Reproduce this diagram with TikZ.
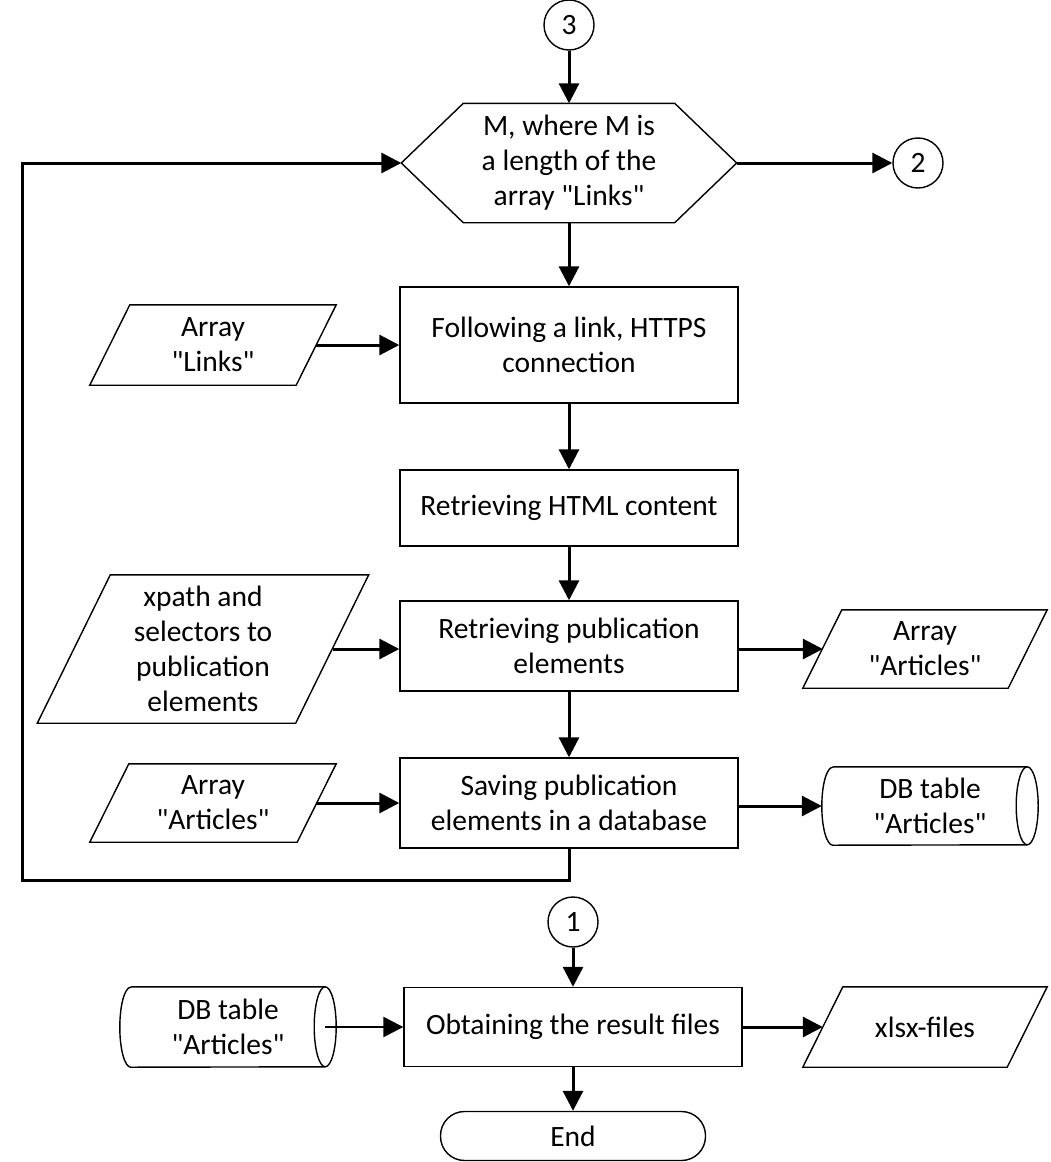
\documentclass[tikz,border=0pt]{standalone}
\usepackage{fontspec}
\setmainfont{Carlito}[Ligatures=TeXOff]
\usetikzlibrary{arrows.meta}
\tikzset{
  txt/.style={align=center, inner sep=0pt, font=\fontsize{29.5}{35}\selectfont},
  procbox/.style={txt, draw, line width=1.4pt, minimum width=338, minimum height=#1},
  conn/.style={txt, draw, circle, line width=1.4pt, minimum size=50},
  flow/.style={line width=3pt, -{Triangle[length=20pt,width=20pt]}},
  shapeline/.style={line width=1.4pt},
  blank/.style={txt, minimum width=#1}
}
\begin{document}
\begin{tikzpicture}[x=1pt,y=-1pt]
\useasboundingbox[fill=white] (0,0) rectangle (1051,1162);

% connectors
\node[conn] (c3) at (569,25) {3};
\node[conn] (c2) at (918,163) {2};

% hexagon (loop limit)
\node[blank=335, minimum height=119] (hex) at (569,163) {M, where M is\\a length of the\\array "Links"};
\draw[shapeline] (hex.west) -- ([xshift=62]hex.north west) -- ([xshift=-62]hex.north east)
  -- (hex.east) -- ([xshift=-62]hex.south east) -- ([xshift=62]hex.south west) -- cycle;

% process boxes
\node[procbox=116] (follow) at (569,345) {Following a link, HTTPS\\connection};
\node[procbox=76] (html) at (569,508) {Retrieving HTML content};
\node[procbox=90] (pub) at (569,646) {Retrieving publication\\elements};
\node[procbox=90] (save) at (569,803) {Saving publication\\elements in a database};
\node[conn] (c1) at (573,922) {1};
\node[procbox=79] (obtain) at (573,1027) {Obtaining the result files};
\node[txt, draw, line width=1.4pt, rounded corners=24pt, minimum width=265, minimum height=49] (end) at (573,1136) {End};

% parallelograms (data)
\node[blank=246, minimum height=80] (links) at (213,345) {Array\\"Links"};
\draw[shapeline] (links.south west) -- ([xshift=40]links.north west) -- (links.north east)
  -- ([xshift=-40]links.south east) -- cycle;

\node[blank=331, minimum height=148] (xpath) at (203,649) {xpath and\\selectors to\\publication\\elements};
\draw[shapeline] (xpath.south west) -- ([xshift=73]xpath.north west) -- (xpath.north east)
  -- ([xshift=-73]xpath.south east) -- cycle;

\node[blank=244, minimum height=78] (artR) at (925,649) {Array\\"Articles"};
\draw[shapeline] (artR.south west) -- ([xshift=39]artR.north west) -- (artR.north east)
  -- ([xshift=-39]artR.south east) -- cycle;

\node[blank=246, minimum height=78] (artL) at (213,803) {Array\\"Articles"};
\draw[shapeline] (artL.south west) -- ([xshift=39]artL.north west) -- (artL.north east)
  -- ([xshift=-39]artL.south east) -- cycle;

\node[blank=244, minimum height=80] (xlsx) at (925,1027) {xlsx-files};
\draw[shapeline] (xlsx.south west) -- ([xshift=40]xlsx.north west) -- (xlsx.north east)
  -- ([xshift=-40]xlsx.south east) -- cycle;

% cylinders (DB tables)
\node[blank=216, minimum height=78] (dbR) at (930,806) {DB table\\"Articles"};
\draw[shapeline] ([xshift=11pt]dbR.north west) -- ([xshift=-11pt]dbR.north east)
  arc[start angle=90, end angle=-90, x radius=11pt, y radius=39pt]
  -- ([xshift=11pt]dbR.south west)
  arc[start angle=270, end angle=90, x radius=11pt, y radius=39pt];
\draw[shapeline] ([xshift=-11pt]dbR.north east)
  arc[start angle=90, end angle=270, x radius=11pt, y radius=39pt];

\node[blank=216, minimum height=80] (dbL) at (228,1027) {DB table\\"Articles"};
\draw[shapeline] ([xshift=11pt]dbL.north west) -- ([xshift=-11pt]dbL.north east)
  arc[start angle=90, end angle=-90, x radius=11pt, y radius=40pt]
  -- ([xshift=11pt]dbL.south west)
  arc[start angle=270, end angle=90, x radius=11pt, y radius=40pt];
\draw[shapeline] ([xshift=-11pt]dbL.north east)
  arc[start angle=90, end angle=270, x radius=11pt, y radius=40pt];

% connectors / arrows
\draw[flow] (c3) -- (hex.north);
\draw[flow] (hex.east) -- (c2);
\draw[flow] (hex.south) -- (follow.north);
\draw[flow] ([xshift=-20]links.east) -- (follow.west);
\draw[flow] (follow.south) -- (html.north);
\draw[flow] (html.south) -- (pub.north);
\draw[flow] ([xshift=-36]xpath.east) -- (pub.west |- xpath.east);
\draw[flow] (pub.east |- artR.west) -- ([xshift=20]artR.west);
\draw[flow] (pub.south) -- (save.north);
\draw[flow] ([xshift=-20]artL.east) -- (save.west);
\draw[flow] (save.east |- dbR.west) -- (dbR.west);
\coordinate (loopbl) at (22,880);
\draw[flow] (save.south) |- (loopbl) |- (hex.west);
\draw[flow] (c1) -- (obtain.north);
\draw[flow, line width=2.4pt] ([xshift=-11]dbL.east) -- (obtain.west);
\draw[flow] (obtain.east) -- ([xshift=20]xlsx.west);
\draw[flow] (obtain.south) -- (end.north);
\end{tikzpicture}
\end{document}
